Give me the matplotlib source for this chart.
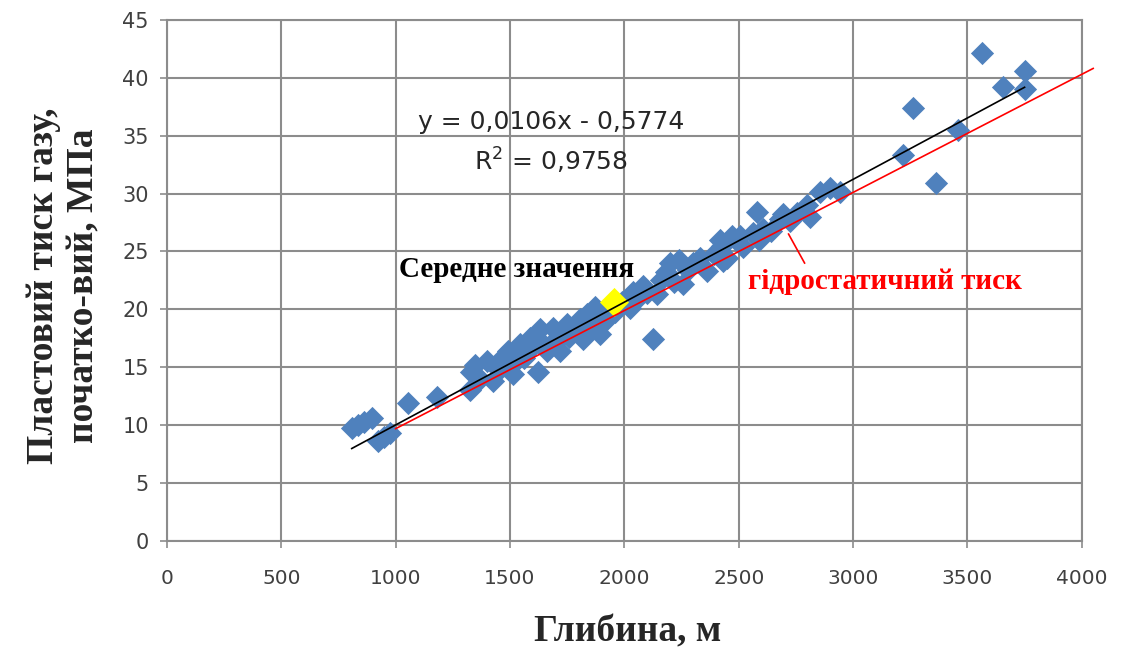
import numpy as np
import matplotlib
matplotlib.use('Agg')
from matplotlib import pyplot as plt

# depth (m) vs initial reservoir gas pressure (MPa)
depth = [808, 835, 860, 896, 922, 950, 975, 1053, 1180,
         1324, 1330, 1346, 1370, 1399, 1425, 1450, 1470, 1490, 1500,
         1512, 1530, 1543, 1560, 1575, 1587, 1600, 1622, 1630, 1645,
         1660, 1687, 1700, 1718, 1730, 1748, 1760, 1780, 1805, 1818,
         1836, 1850, 1870, 1880, 1892, 1910, 1923, 1940, 1960,
         1990, 2023, 2037, 2060, 2080, 2100, 2124, 2141, 2160, 2180,
         2198, 2215, 2240, 2255, 2280, 2300, 2330, 2360, 2390, 2417,
         2425, 2430, 2447,
         2470, 2504, 2520, 2561, 2578, 2590, 2605, 2640, 2679, 2692,
         2723, 2753, 2797, 2810, 2854, 2898, 2941,
         3217, 3261, 3361, 3457, 3566, 3654, 3750, 3750]
pressure = [9.8, 10.0, 10.3, 10.6, 8.6, 9.0, 9.3, 11.9, 12.4,
            13.0, 14.6, 15.2, 14.0, 15.5, 13.8, 14.8, 15.9, 16.4, 15.0,
            14.4, 16.0, 17.0, 15.8, 16.5, 17.5, 16.8, 14.6, 18.3, 17.0,
            16.4, 18.4, 17.4, 16.4, 17.8, 18.7, 17.6, 18.2, 19.2, 17.4,
            19.6, 18.6, 20.2, 19.4, 17.9, 19.0, 19.2, 20.4, 19.8,
            20.6, 20.1, 21.5, 21.0, 22.0, 21.4, 17.4, 21.3, 22.5, 23.2,
            24.0, 22.4, 24.3, 22.2, 23.4, 24.0, 24.4, 23.3, 24.8, 26.0,
            25.5, 24.2, 24.4,
            26.3, 26.3, 25.4, 26.6, 28.4, 26.0, 26.9, 26.8, 27.8, 28.2,
            27.6, 28.3, 29.0, 28.0, 30.1, 30.5, 30.1,
            33.3, 37.4, 30.9, 35.5, 42.1, 39.2, 40.6, 39.0]

# mean value point
mean_depth = 1955
mean_pressure = 20.6

# linear trend (from the fitted equation)
slope = 0.0106
intercept = -0.5774
r2 = 0.9758

# hydrostatic pressure line
hydro_depth = [1000, 4050]
hydro_pressure = [9.7, 40.8]

fig = plt.figure(figsize=(11.28, 6.59), dpi=100)
ax = fig.add_axes([0.148, 0.179, 0.811, 0.791])

grid_c = '#8c8c8c'
ax.set_xlim(0, 4000)
ax.set_ylim(0, 45)
ax.set_xticks(np.arange(0, 4001, 500))
ax.set_yticks(np.arange(0, 46, 5))
ax.grid(True, color=grid_c, lw=1.5, zorder=0)
for s in ax.spines.values():
    s.set_color(grid_c)
    s.set_linewidth(1.5)
ax.tick_params(axis='both', colors=grid_c, length=5, width=1.2, direction='out')
ax.tick_params(axis='x', labelcolor='#404040', labelsize=14.5, pad=15)
ax.tick_params(axis='y', labelcolor='#404040', labelsize=15, pad=8)

ax.scatter(depth, pressure, marker='D', s=140, color='#4f81bd', lw=0, zorder=3)
ax.scatter([mean_depth], [mean_pressure], marker='D', s=220, color='#ffff00',
           lw=0, zorder=4)

xt = np.array([min(depth), max(depth)])
ax.plot(xt, slope * xt + intercept, color='black', lw=1.2, zorder=5)
ax.plot(hydro_depth, hydro_pressure, color='#ff0000', lw=1.2, zorder=5,
        clip_on=False)

eq = 'y = {:.4f}x - {:.4f}'.format(slope, -intercept).replace('.', ',')
ax.text(1680, 36.2, eq, fontsize=18, color='#262626', ha='center', va='center')
ax.text(1680, 32.8, 'R$^2$ = {:.4f}'.format(r2).replace('.', ','),
        fontsize=18, color='#262626', ha='center', va='center')

ser = 'Liberation Serif'
ax.text(1530, 23.4, 'Середне значення', fontsize=21, fontweight='bold',
        family=ser, color='black', ha='center', va='center', zorder=6)
ax.text(3138, 22.4, 'гідростатичний тиск', fontsize=21, fontweight='bold',
        family=ser, color='#ff0000', ha='center', va='center', zorder=6)
ax.plot([2718, 2788], [26.5, 24.0], color='#ff0000', lw=1.2, zorder=6)

ax.set_xlabel('Глибина, м', fontsize=27, fontweight='bold', family=ser,
              color='#262626')
ax.xaxis.set_label_coords(0.504, -0.14)
ax.set_ylabel('Пластовий тиск газу,\nпочатко-вий, МПа', fontsize=27,
              fontweight='bold', family=ser, color='#262626', linespacing=1.2)
ax.yaxis.set_label_coords(-0.072, 0.49)

fig.savefig('out.png', dpi=100)
